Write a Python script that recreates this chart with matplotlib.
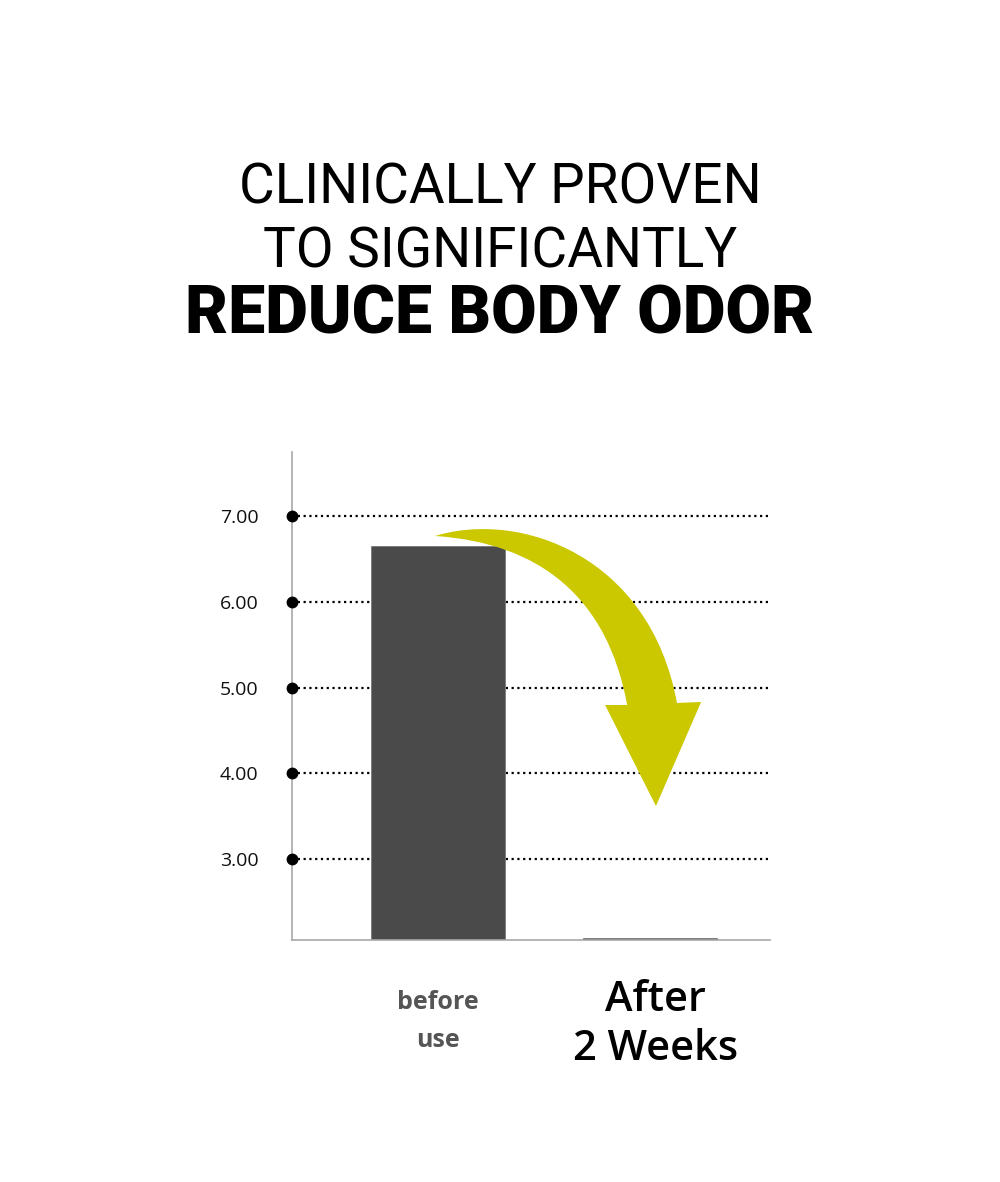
import matplotlib
matplotlib.use("Agg")
import matplotlib.pyplot as plt
from matplotlib.path import Path
from matplotlib.patches import PathPatch
from matplotlib.transforms import blended_transform_factory

# ---- data ----
categories = ["before\nuse", "After\n2 Weeks"]
values = [6.655, 2.085]
tick_values = [3.0, 4.0, 5.0, 6.0, 7.0]
tick_labels = ["3.00", "4.00", "5.00", "6.00", "7.00"]
title_lines = ["CLINICALLY PROVEN", "TO SIGNIFICANTLY", "REDUCE BODY ODOR"]

W, H = 1000, 1182
fig = plt.figure(figsize=(W / 100, H / 100), dpi=100)
fig.patch.set_facecolor("white")

# axes placement in pixels: left 292, right 770, top 452, bottom 940
ax = fig.add_axes([292 / W, 1 - 940 / H, (770 - 292) / W, (940 - 452) / H])
ax.set_xlim(-0.689, 1.566)
ax.set_ylim(2.057, 7.751)

x = list(range(len(values)))
ax.bar(x, values, width=0.632, color="#4a4a4a", edgecolor="#7a7a7a",
       linewidth=0.6, bottom=0, zorder=2)

# dotted grid + dots
for tv in tick_values:
    ax.axhline(tv, color="black", linestyle=(0, (1, 1.6)), linewidth=1.6, zorder=1)
ax.plot([ax.get_xlim()[0]] * len(tick_values), tick_values, "o", color="black",
        markersize=7.5, clip_on=False, zorder=5)

ax.set_yticks(tick_values)
ax.set_yticklabels(tick_labels, fontfamily="Open Sans", fontsize=14, color="#111111")
ax.tick_params(axis="y", length=0, pad=24)
ax.set_xticks([])

for s in ["top", "right"]:
    ax.spines[s].set_visible(False)
for s in ["left", "bottom"]:
    ax.spines[s].set_color("#a8a8a8")
    ax.spines[s].set_linewidth(1.2)

# curved arrow (decoration), data coordinates
verts = [
    (-0.014, 6.771),
    (0.387, 7.075), (1.000, 6.540), (1.127, 4.823),   # outer curve
    (1.241, 4.834),                                    # head right base
    (1.028, 3.620),                                    # tip
    (0.788, 4.799),                                    # head left base
    (0.892, 4.799),                                    # inner start
    (0.800, 6.050), (0.481, 6.690), (-0.014, 6.771),   # inner curve
    (-0.014, 6.771),
]
codes = [Path.MOVETO, Path.CURVE4, Path.CURVE4, Path.CURVE4,
         Path.LINETO, Path.LINETO, Path.LINETO, Path.LINETO,
         Path.CURVE4, Path.CURVE4, Path.CURVE4, Path.CLOSEPOLY]
ax.add_patch(PathPatch(Path(verts, codes), facecolor="#cbc800", edgecolor="none", zorder=4))

# category labels
tr = blended_transform_factory(ax.transData, fig.transFigure)
ax.text(x[0], 1 - 1009 / H, "before", transform=tr, ha="center", va="baseline",
        fontfamily="Open Sans", fontweight="bold", fontsize=18, color="#555555")
ax.text(x[0], 1 - 1047 / H, "use", transform=tr, ha="center", va="baseline",
        fontfamily="Open Sans", fontweight="bold", fontsize=18, color="#555555")
ax.text(x[1] + 0.024, 1 - 1011 / H, "After", transform=tr, ha="center", va="baseline",
        fontfamily="Open Sans", fontweight="semibold", fontsize=30, color="black")
ax.text(x[1] + 0.024, 1 - 1060 / H, "2 Weeks", transform=tr, ha="center", va="baseline",
        fontfamily="Open Sans", fontweight="semibold", fontsize=30, color="black")

# title
fig.text(0.5, 1 - 203 / H, title_lines[0], ha="center", va="baseline",
         fontfamily="Roboto", fontsize=39.5, color="black")
fig.text(0.5, 1 - 267 / H, title_lines[1], ha="center", va="baseline",
         fontfamily="Roboto", fontsize=39.5, color="black")
fig.text(0.5, 1 - 333 / H, title_lines[2], ha="center", va="baseline",
         fontfamily="Roboto", fontweight="black", fontsize=47.5, color="black")

fig.savefig("out.png", dpi=100, facecolor="white")
